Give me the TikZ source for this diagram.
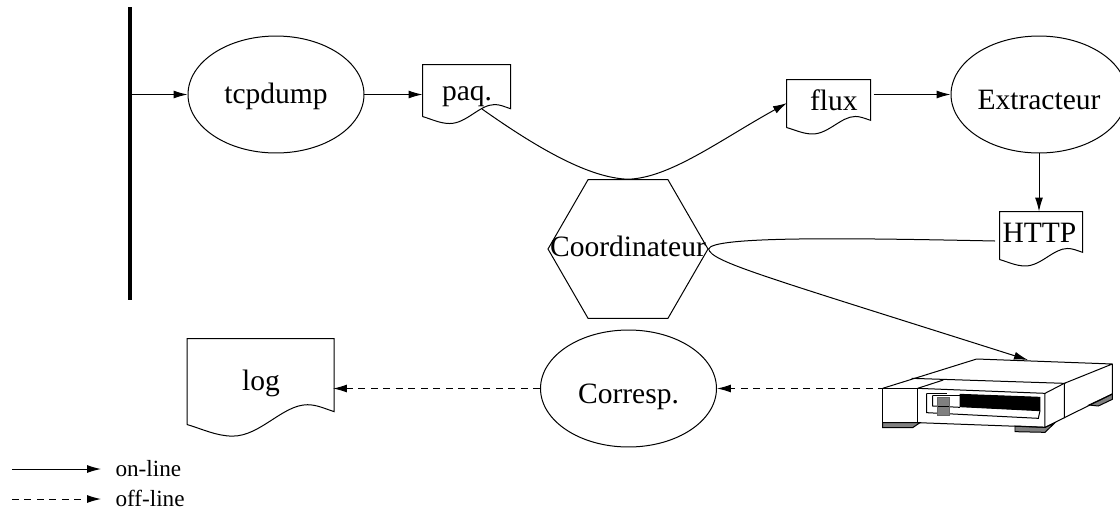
\documentclass[tikz,border=0pt]{standalone}
\usepackage{fontspec}
\setmainfont{Liberation Serif}
\usetikzlibrary{arrows.meta,shapes.geometric}

\newcommand{\docnode}[7]{
  \node[doc text,drop=#6,minimum width=#4*.02cm,minimum height=#5*.02cm] (#1) at (#2,#3) {#7};
}
% outline of a sheet, #2 = width and #3 = length of its left side
\newcommand{\docsheet}[3]{
  \begin{scope}[shift={(#1)},x=#2*.02cm,y=-#3*.02cm]
    \draw (0,1) -- (0,0) -- (1,0) -- (1,.85)
      .. controls (.93,.81) and (.88,.77) .. (.82,.77)
      .. controls (.65,.77) and (.5,1.135) .. (.31,1.135)
      .. controls (.2,1.135) and (.1,1.05) .. (0,1);
  \end{scope}
}

\begin{document}
\begin{tikzpicture}[x=.02cm,y=-.02cm,line width=.2mm,
  drop/.style={text height=#1*.04cm,text depth=0pt},
  big text/.style={font=\fontsize{16.8}{20}\selectfont},
  main node/.style={ellipse,draw,big text,inner sep=0pt,minimum width=3.52cm,minimum height=2.34cm},
  doc text/.style={rectangle,big text,inner sep=0pt},
  legend text/.style={anchor=west,inner sep=0pt,font=\fontsize{13.2}{15}\selectfont},
  online/.style={-{Latex[length=2.8mm,width=1.6mm]}},
  offline/.style={online,dash pattern=on 1.4mm off 1.1mm},
  foot/.style={draw,fill=black!50}]

  \useasboundingbox (0,0) rectangle (1120,511);

  \node[main node,drop=8.5] (tcpdump) at (276,94.5) {tcpdump};
  \node[main node,drop=15.5] (extracteur) at (1039,94.5) {Extracteur};
  \node[main node,drop=14.5] (corresp) at (628.5,388.5) {Corresp.};
  \node[regular polygon,regular polygon sides=6,draw,big text,inner sep=0pt,minimum size=3.2cm,drop=7.5]
    (coordinateur) at (628,249) {\makebox[0pt]{Coordinateur}};

  \docnode{paq}{467}{94.5}{88}{59}{5.5}{paq.}
  \docnode{flux}{829}{108}{84}{56}{2}{\hspace*{5.6pt}flux}
  \docnode{http}{1041.5}{232}{83}{40}{10}{HTTP\hspace*{2.3pt}}
  \docnode{log}{261}{382}{147}{86}{8}{log}
  \docsheet{paq.north west}{88}{52}
  \docsheet{flux.north west}{84}{48}
  \docsheet{http.north west}{83}{48}
  \docsheet{log.north west}{147}{86}

  \coordinate (wire) at (130,94.5);
  \coordinate (paq out) at (482,109);
  \coordinate (flux in) at (787,103);
  \coordinate (http out) at (995,241);
  \coordinate (tape top) at (1028,360);
  \coordinate (tape front) at (885,388.5);
  \coordinate (log in) at (333,388.5);
  \coordinate (on a) at (12,469);
  \coordinate (on b) at (101,469);
  \coordinate (off a) at (12,499);
  \coordinate (off b) at (101,499);

  \draw[line width=.8mm] (130,7) -- (130,300);

  \draw[online] (wire) -- (tcpdump.west);
  \draw[online] (tcpdump.east) -- (paq.west);
  \draw[online,shorten <=.04cm] (flux.east |- extracteur.west) -- (extracteur.west);
  \draw[online] (extracteur.south) -- (extracteur.south |- http.north);
  \draw[online] (paq out) .. controls (540,150) and (590,178) .. (coordinateur.north)
    .. controls (670,178) and (720,140) .. (flux in);
  \draw[online] (http out) .. controls (850,238) and (712,236) .. (coordinateur.east)
    .. controls (712,262) and (760,275) .. (tape top);
  \draw[offline] (tape front) -- (corresp.east);
  \draw[offline] (corresp.west) -- (log in);

  % tape drive
  \begin{scope}[shift={(870,340)},x=.02cm/3,y=-.02cm/3]
    \draw[foot] (38,248) -- (38,263) -- (128,263) -- (150,248) -- cycle;
    \draw[foot] (435,258) -- (435,275) -- (525,277) -- (553,250) -- (525,262) -- cycle;
    \draw[foot] (657,195) -- (685,198) -- (727,178) -- (727,162) -- cycle;
    \draw (38,145) -- (320,57) -- (727,72) -- (727,162) -- (583,233) -- (583,130) -- (727,72);
    \draw (38,145) -- (38,248) -- (143,248) -- (143,145) -- cycle;
    \draw (143,145) -- (525,160) -- (583,130) -- (125,115);
    \draw (143,145) -- (220,120);
    \draw (525,160) -- (525,262) -- (143,248);
    \draw (525,262) -- (583,233);
    \draw (170,160) -- (170,218) -- (505,235) -- (510,212);
    \draw (170,160) -- (230,160);
    \draw (188,166) -- (188,198) -- (270,202);
    \draw (188,166) -- (270,166);
    \draw[fill=black] (270,163) -- (510,172) -- (510,212) -- (270,200) -- cycle;
    \draw[draw=black!60,fill=black!50] (203,173) rectangle (238,225);
    \draw (203,200) -- (238,200);
  \end{scope}

  % legend
  \draw[online] (on a) -- (on b);
  \draw[offline] (off a) -- (off b);
  \node[legend text] (on label) at (115,469) {on-line};
  \node[legend text] (off label) at (115,498) {off-line};
\end{tikzpicture}
\end{document}
